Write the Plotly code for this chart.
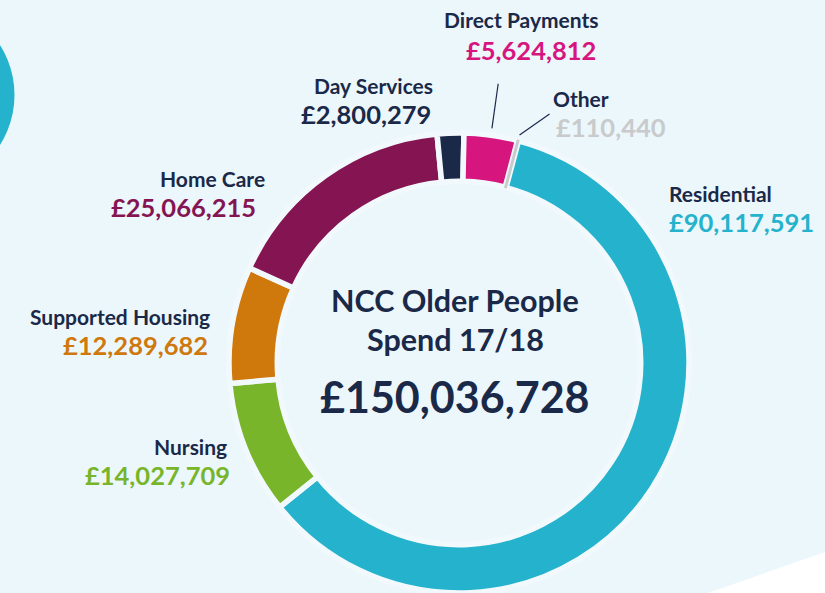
import math
import plotly.graph_objects as go

# ---- data ----
categories = ["Residential", "Nursing", "Supported Housing", "Home Care",
              "Day Services", "Direct Payments", "Other"]
values = [90117591, 14027709, 12289682, 25066215, 2800279, 5624812, 110440]
colors = ["#25b2cc", "#78b52a", "#cf780c", "#851453", "#1b2949", "#d6157e", "#c8cacb"]
title_lines = ["NCC Older People", "Spend 17/18"]

W, H = 825, 593
BG = "#ecf7fc"
NAVY = "#1b2949"
FONT = "Lato"

# geometry of the donut (pixels)
CX, CY, R = 459, 363, 230
ROT = 15

def px(x):
    return x / W

def py(y):
    return 1 - y / H

total = sum(values)

fig = go.Figure(go.Pie(
    labels=categories, values=values, sort=False, direction="clockwise",
    rotation=ROT, hole=0.79, textinfo="none", showlegend=False,
    marker=dict(colors=colors,
                line=dict(color=["#f2f9fd"] * 6 + ["#c8cacb"],
                          width=[5.5] * 6 + [2])),
    domain=dict(x=[px(CX - R), px(CX + R)], y=[py(CY + R), py(CY - R)]),
    hovertemplate="%{label}: £%{value:,}<extra></extra>",
))

shapes = [
    # white corner at bottom right
    dict(type="path", xref="paper", yref="paper",
         path=f"M {px(708)} {py(593)} L {px(825)} {py(552)} L {px(830)} {py(598)} L {px(700)} {py(598)} Z",
         fillcolor="#ffffff", line=dict(width=0), layer="below"),
    # teal circle at left edge
    dict(type="circle", xref="paper", yref="paper",
         x0=px(-79 - 93.5), x1=px(-79 + 93.5), y0=py(95 + 93.5), y1=py(95 - 93.5),
         fillcolor="#25b2cc", line=dict(width=0), layer="below"),
]

# leader lines computed from slice mid-angles
cum = 0
mids = {}
for c, v in zip(categories, values):
    a0 = ROT + cum / total * 360
    cum += v
    a1 = ROT + cum / total * 360
    mids[c] = (a0 + a1) / 2

def polar(angle, r):
    t = math.radians(angle)
    return CX + r * math.sin(t), CY - r * math.cos(t)

x0, y0 = polar(mids["Direct Payments"], 237)
x1, y1 = polar(mids["Direct Payments"], 282)
shapes.append(dict(type="line", xref="paper", yref="paper", x0=px(x0), y0=py(y0),
                   x1=px(x1), y1=py(y1), line=dict(color=NAVY, width=1.2)))
x0, y0 = polar(mids["Other"], 236)
shapes.append(dict(type="line", xref="paper", yref="paper", x0=px(x0), y0=py(y0),
                   x1=px(x0 + 30), y1=py(y0 - 21), line=dict(color=NAVY, width=1.2)))

# label placement: side, (name x, name y), (value x, value y)
label_pos = {
    "Direct Payments": ("right", (601, 20), (598, 50)),
    "Day Services": ("right", (435, 85), (433, 114)),
    "Other": ("left", (551, 99), (554, 127)),
    "Residential": ("left", (667, 193), (667, 222)),
    "Home Care": ("right", (267, 178), (258, 207)),
    "Supported Housing": ("right", (212, 316), (210, 345)),
    "Nursing": ("right", (229, 446), (232, 475)),
}

annotations = []
for c, v, col in zip(categories, values, colors):
    anchor, (xn, yn), (xv, yv) = label_pos[c]
    annotations.append(dict(
        x=px(xn), y=py(yn), xref="paper", yref="paper", showarrow=False,
        xanchor=anchor, yanchor="middle", text=f"<b>{c}</b>",
        font=dict(family=FONT, size=21, color=NAVY)))
    annotations.append(dict(
        x=px(xv), y=py(yv), xref="paper", yref="paper", showarrow=False,
        xanchor=anchor, yanchor="middle", text=f"<b>£{v:,}</b>",
        font=dict(family=FONT, size=25.5, color=col)))

for txt, yy in zip(title_lines, [300, 339]):
    annotations.append(dict(
        x=px(455), y=py(yy), xref="paper", yref="paper", showarrow=False,
        xanchor="center", yanchor="middle", text=f"<b>{txt}</b>",
        font=dict(family=FONT, size=30.5, color=NAVY)))
annotations.append(dict(
    x=px(455), y=py(396), xref="paper", yref="paper", showarrow=False,
    xanchor="center", yanchor="middle", text=f"<b>£{total:,}</b>",
    font=dict(family=FONT, size=43, color=NAVY)))

fig.update_layout(
    width=W, height=H, margin=dict(l=0, r=0, t=0, b=0),
    paper_bgcolor=BG, plot_bgcolor=BG,
    shapes=shapes, annotations=annotations,
)

fig.write_html("out.html", config={"displayModeBar": False},
               post_script="document.body.style.margin='0';document.body.style.overflow='hidden';")
